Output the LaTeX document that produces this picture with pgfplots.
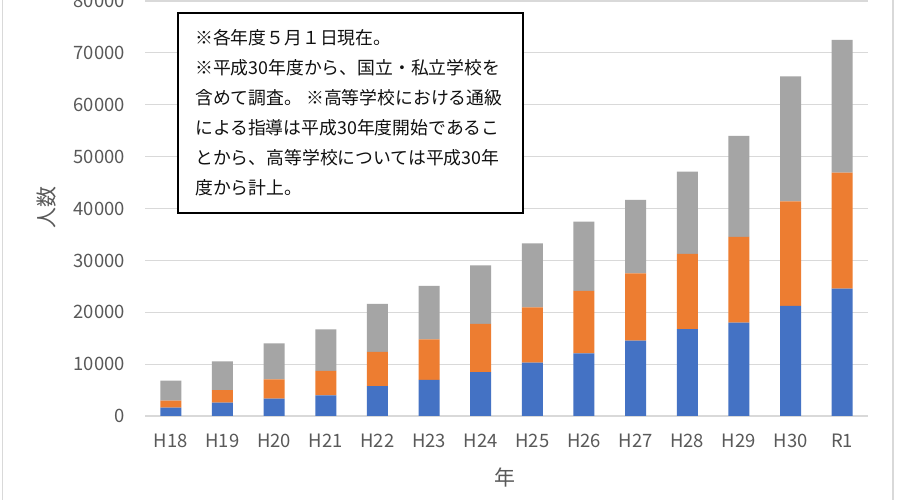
\documentclass[border=0pt]{standalone}
\usepackage{pgfplots}
\pgfplotsset{compat=1.18}
\usepackage{pgfplotstable}
\usepackage{fontspec}
\setmainfont{Noto Sans CJK JP}

\definecolor{barblue}{HTML}{4472C4}
\definecolor{barorange}{HTML}{ED7D31}
\definecolor{bargray}{HTML}{A5A5A5}
\definecolor{gridgray}{HTML}{D9D9D9}
\definecolor{labelgray}{HTML}{595959}
\definecolor{notetext}{HTML}{111111}

% Students per year, one column per stacked segment
\pgfplotstableread{
idx blue orange gray
0   1600  1350  3850
1   2560  2440  5550
2   3340  3730  6930
3   3980  4700  8020
4   5780  6560  9260
5   6940  7850  10270
6   8480  9260  11310
7   10280 10670 12340
8   12080 12020 13360
9   14520 12990 14140
10  16770 14470 15860
11  17990 16520 19470
12  21210 20180 24100
13  24540 22370 25580
}\students

\begin{document}
\begin{tikzpicture}
\useasboundingbox (0bp,0bp) rectangle (900bp,500bp);
\clip (0bp,0bp) rectangle (900bp,500bp);
\fill[white] (0bp,0bp) rectangle (900bp,500bp);
% chart area border
\draw[gridgray, line width=1.2bp] (2.5bp,-5bp) -- (2.5bp,505bp);
\draw[gridgray, line width=1.2bp] (893bp,-5bp) -- (893bp,505bp);

\begin{axis}[
  at={(145bp,84bp)}, anchor=south west,
  scale only axis, width=723bp, height=415bp,
  xmin=-0.5, xmax=13.5, ymin=0, ymax=80000,
  ybar stacked, bar width=21bp,
  axis x line*=bottom,
  axis y line*=left,
  x axis line style={draw=gridgray, line width=1.2bp, -},
  y axis line style={draw=none},
  ymajorgrids, grid style={draw=gridgray, line width=1.2bp},
  ytick={0,10000,...,80000},
  xtick={0,...,13},
  xticklabels={H18,H19,H20,H21,H22,H23,H24,H25,H26,H27,H28,H29,H30,R1},
  major tick length=0pt,
  scaled y ticks=false,
  tick label style={font=\fontsize{18.5}{22}\selectfont, text=labelgray, inner sep=0pt},
  y tick label style={anchor=base east, xshift=-20bp, yshift=-6.7bp,
    /pgf/number format/.cd, fixed, 1000 sep={}, assume math mode=true},
  x tick label style={anchor=base, yshift=-32bp},
  clip=false,
]
\addplot[fill=barblue, draw=none] table[x=idx, y=blue] {\students};
\addplot[fill=barorange, draw=none] table[x=idx, y=orange] {\students};
\addplot[fill=bargray, draw=none] table[x=idx, y=gray] {\students};
\end{axis}

\begin{scope}[x=1bp, y=1bp]
% axis titles
\node[rotate=90, text=labelgray, font=\fontsize{21}{24}\selectfont] at (47,292) {人数};
\node[text=labelgray, font=\fontsize{21}{24}\selectfont] at (505,22) {年};

% note box
\draw[black, line width=2.5bp, fill=white] (178,487) rectangle (523,287);
\begin{scope}[every node/.style={anchor=base west, inner sep=0pt, text=notetext, font=\fontsize{17.9}{20}\selectfont}]
\node at (195,455.2) {※各年度５月１日現在。};
\node at (195,425.2) {※平成30年度から、国立・私立学校を};
\node at (195,395.2) {含めて調査。 ※高等学校における通級};
\node at (195,365.2) {による指導は平成30年度開始であるこ};
\node at (195,335.2) {とから、高等学校については平成30年};
\node at (195,305.2) {度から計上。};
\end{scope}
\end{scope}
\end{tikzpicture}
\end{document}
